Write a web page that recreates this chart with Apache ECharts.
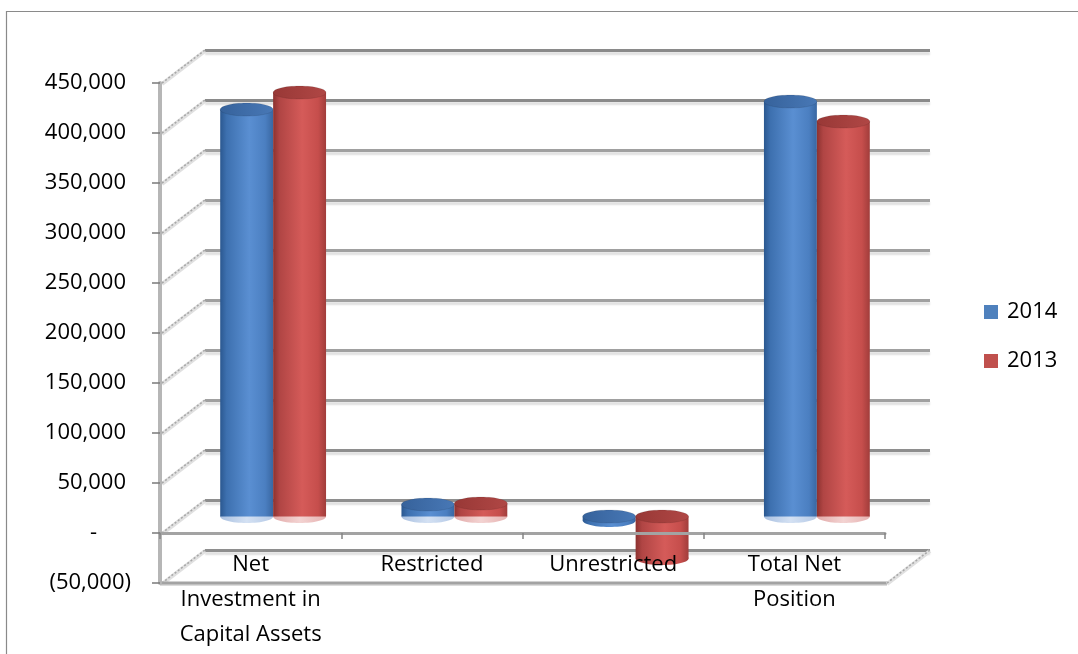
<!DOCTYPE html>
<html>
<head>
<meta charset="utf-8">
<script src="https://cdn.jsdelivr.net/npm/echarts@6/dist/echarts.min.js"></script>
<style>
  html, body { margin: 0; padding: 0; background: #ffffff; }
  #chart { width: 1078px; height: 654px; }
</style>
</head>
<body>
<div id="chart"></div>
<script>
// ---- data -------------------------------------------------------------
const categories = ['Net\nInvestment in\nCapital Assets', 'Restricted', 'Unrestricted', 'Total Net\nPosition'];
const years = ['2014', '2013'];
const values2014 = [407000, 12000, -4000, 415000];
const values2013 = [424000, 13000, -42000, 395000];
const axisMin = -50000;
const axisMax = 450000;
const axisStep = 50000;
const wallTicks = [-50000, 0, 50000, 100000, 150000, 200000, 250000, 300000, 350000, 400000, 450000];

// ---- layout / style ---------------------------------------------------
const FONT = '"Open Sans", "Noto Sans", sans-serif';
const FRONT = { left: 160, top: 83, width: 725, height: 500 };
const DEPTH = [45, -33];          // oblique offset from the front plane to the back wall
const BAR_RATIO = 0.292;          // cylinder width as a share of one category band
const CAP_RY = 6.5;               // vertical radius of the elliptical cylinder caps
// lift the category axis from the floor up to the zero level
const ZERO_LIFT = -(0 - axisMin) / (axisMax - axisMin) * FRONT.height;

function plane(f) {
  return { left: FRONT.left + DEPTH[0] * f, top: FRONT.top + DEPTH[1] * f,
           width: FRONT.width, height: FRONT.height,
           containLabel: false, outerBoundsMode: 'none' };
}

const PALETTE = {
  '2014': {
    legend: '#4f81bd',
    body: [[0, '#2b5890'], [0.12, '#3d70af'], [0.55, '#5a8fd2'], [0.85, '#4b7fc1'], [1, '#3967a2']],
    top: [[0, '#36629b'], [1, '#4878b6']],
    base: [[0, '#a9c0e0'], [0.5, '#d4e1f3'], [1, '#b4c9e6']]
  },
  '2013': {
    legend: '#c0504d',
    body: [[0, '#8c3230'], [0.12, '#b04544'], [0.55, '#d55b59'], [0.85, '#c64e4c'], [1, '#a13d3b']],
    top: [[0, '#983836'], [1, '#b04745']],
    base: [[0, '#e2a9a8'], [0.5, '#f3d3d2'], [1, '#e6b2b1']]
  }
};

function hGrad(stops) {
  return { type: 'linear', x: 0, y: 0, x2: 1, y2: 0,
           colorStops: stops.map(s => ({ offset: s[0], color: s[1] })) };
}

function ellipsePoints(cx, cy, rx, ry) {
  const pts = [];
  for (let k = 0; k < 60; k++) {
    const a = k / 60 * Math.PI * 2;
    pts.push([cx + rx * Math.cos(a), cy + ry * Math.sin(a)]);
  }
  return pts;
}

const fmtNum = v => Math.round(v).toLocaleString('en-US');
function accounting(v) {
  if (v === 0) return '{zero|-}';
  if (v < 0) return '{neg|(' + fmtNum(-v) + ')}';
  return '{pos|' + fmtNum(v) + '}';
}

// ---- renderers --------------------------------------------------------
function cylinderRenderer(year, side) {
  const pal = PALETTE[year];
  return function (params, api) {
    const cat = api.value(0);
    const val = api.value(1);
    const band = api.size([1, 0])[0];
    const w = band * BAR_RATIO;
    const base = api.coord([cat, 0]);
    const tip = api.coord([cat, val]);
    const cx = base[0] + side * w / 2;
    const yTop = Math.min(base[1], tip[1]);
    const yBot = Math.max(base[1], tip[1]);
    const rx = w / 2;
    const negative = val < 0;
    return {
      type: 'group',
      children: [
        { type: 'polygon', shape: { points: ellipsePoints(cx, yBot, rx, CAP_RY) },
          style: { fill: hGrad(negative ? pal.body : pal.base) } },
        { type: 'rect', shape: { x: cx - rx, y: yTop, width: w, height: yBot - yTop },
          style: { fill: hGrad(pal.body) } },
        { type: 'polygon', shape: { points: ellipsePoints(cx, yTop, rx, CAP_RY) },
          style: { fill: hGrad(pal.top), stroke: 'rgba(0,0,0,0.12)', lineWidth: 0.8 } }
      ]
    };
  };
}

function wallRenderer(params, api) {
  const p = api.coord([0, api.value(1)]);
  const left = p[0] - api.size([1, 0])[0] / 2;
  const a = [left + 2, p[1]];
  const b = [left + DEPTH[0], p[1] + DEPTH[1]];
  return {
    type: 'group',
    children: [
      { type: 'line', shape: { x1: a[0], y1: a[1] + 1, x2: b[0], y2: b[1] + 1 },
        style: { stroke: '#e0e0e0', lineWidth: 4 } },
      { type: 'line', shape: { x1: a[0], y1: a[1], x2: b[0], y2: b[1] },
        style: { stroke: '#a8a8a8', lineWidth: 1.6, lineDash: [2, 2] } }
    ]
  };
}

function floorRenderer(params, api) {
  const band = api.size([1, 0])[0];
  const first = api.coord([0, api.value(1)]);
  const last = api.coord([api.value(0), api.value(1)]);
  const left = first[0] - band / 2;
  const right = last[0] + band / 2 + 2;
  const y = first[1];
  return {
    type: 'group',
    children: [
      { type: 'line', shape: { x1: left, y1: y + 1, x2: right, y2: y + 1 },
        style: { stroke: '#dcdcdc', lineWidth: 4 } },
      { type: 'line', shape: { x1: left, y1: y, x2: right, y2: y },
        style: { stroke: '#a3a3a3', lineWidth: 3 } },
      { type: 'line', shape: { x1: right, y1: y + 1, x2: right + DEPTH[0] - 2, y2: y + DEPTH[1] + 1 },
        style: { stroke: '#e0e0e0', lineWidth: 4 } },
      { type: 'line', shape: { x1: right, y1: y, x2: right + DEPTH[0] - 2, y2: y + DEPTH[1] },
        style: { stroke: '#a8a8a8', lineWidth: 1.6, lineDash: [2, 2] } }
    ]
  };
}

// ---- axes -------------------------------------------------------------
function valueAxis(gridIndex, extra) {
  return Object.assign({
    type: 'value', gridIndex, min: axisMin, max: axisMax, interval: axisStep,
    axisLabel: { show: false }, axisLine: { show: false },
    axisTick: { show: false }, splitLine: { show: false }
  }, extra);
}
function categoryAxis(gridIndex, extra) {
  return Object.assign({
    type: 'category', gridIndex, data: categories,
    axisLabel: { show: false }, axisLine: { show: false },
    axisTick: { show: false }, splitLine: { show: false }
  }, extra);
}

const labelFont = { fontFamily: FONT, fontSize: 22, color: '#000000' };
const gridColors = ['#8e8e8e', '#8e8e8e', '#8e8e8e', '#a0a0a0', '#a0a0a0', '#a0a0a0',
                    '#a0a0a0', '#a0a0a0', '#a0a0a0', '#8a8a8a', '#8a8a8a'];

const option = {
  backgroundColor: '#ffffff',
  animation: false,
  graphic: [{
    type: 'rect', left: 4, top: 9, silent: true, z: -10,
    shape: { width: 1200, height: 800 },
    style: { fill: 'none', stroke: '#8a8a8a', lineWidth: 1.2 }
  }],
  legend: {
    orient: 'vertical', left: 984, top: 301, padding: 0,
    itemWidth: 14, itemHeight: 14, itemGap: 27,
    icon: 'rect', data: years,
    textStyle: Object.assign({ lineHeight: 22, padding: [0, 0, 0, 4] }, labelFont)
  },
  grid: [plane(0), plane(1), plane(0.5)],
  xAxis: [
    categoryAxis(0, {
      z: 6, position: 'bottom', offset: ZERO_LIFT,
      axisLine: { show: true, onZero: false, lineStyle: { color: '#a3a3a3', width: 3 } },
      axisTick: { show: true, length: 6, lineStyle: { color: '#858585', width: 1.5 } },
      axisLabel: Object.assign({ show: true, margin: 14, lineHeight: 35, interval: 0 }, labelFont)
    }),
    categoryAxis(1, {}),
    categoryAxis(2, {})
  ],
  yAxis: [
    valueAxis(0, {
      z: 6,
      axisLine: { show: true, onZero: false, lineStyle: { color: '#b6b6b6', width: 4 } },
      axisTick: { show: true, length: 8, lineStyle: { color: '#7a7a7a', width: 1.5 } },
      axisLabel: {
        show: true, margin: 29, formatter: accounting,
        rich: {
          pos: Object.assign({ padding: [0, 5, 0, 0] }, labelFont),
          neg: Object.assign({}, labelFont),
          zero: Object.assign({ padding: [0, 34, 0, 0] }, labelFont)
        }
      }
    }),
    valueAxis(1, {
      z: 0,
      splitLine: { show: true, lineStyle: {
        color: gridColors, width: 3,
        shadowColor: 'rgba(0,0,0,0.13)', shadowBlur: 2, shadowOffsetY: 3 } }
    }),
    valueAxis(2, {})
  ],
  series: [
    {
      type: 'custom', name: 'wall', xAxisIndex: 0, yAxisIndex: 0, z: 4, silent: true,
      renderItem: wallRenderer, data: wallTicks.map(v => [0, v])
    },
    {
      type: 'custom', name: 'floor', xAxisIndex: 0, yAxisIndex: 0, z: 4, silent: true,
      renderItem: floorRenderer, data: [[categories.length - 1, axisMin]]
    },
    {
      type: 'custom', name: years[0], xAxisIndex: 2, yAxisIndex: 2, z: 5,
      itemStyle: { color: PALETTE[years[0]].legend },
      renderItem: cylinderRenderer(years[0], -1),
      data: values2014.map((v, i) => [i, v])
    },
    {
      type: 'custom', name: years[1], xAxisIndex: 2, yAxisIndex: 2, z: 5,
      itemStyle: { color: PALETTE[years[1]].legend },
      renderItem: cylinderRenderer(years[1], 1),
      data: values2013.map((v, i) => [i, v])
    }
  ]
};

const chart = echarts.init(document.getElementById('chart'), null, { renderer: 'canvas' });
chart.setOption(option);
</script>
</body>
</html>
